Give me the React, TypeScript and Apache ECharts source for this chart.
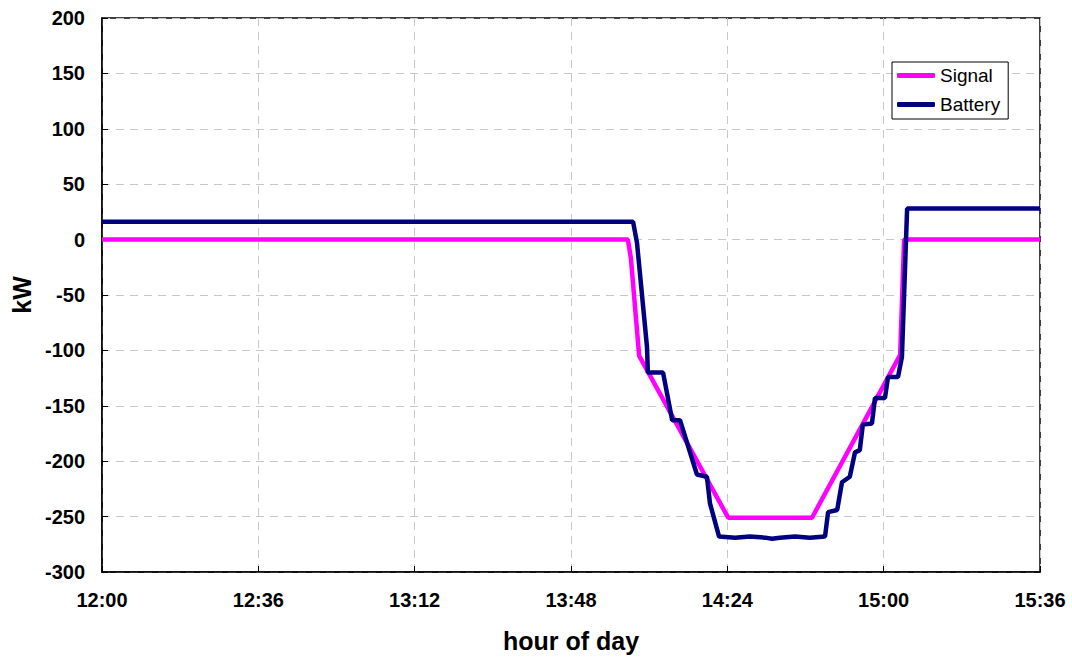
import React, { useEffect, useRef } from "react";
import * as echarts from "echarts";

// minutes after 12:00
const xTickLabels = ["12:00", "12:36", "13:12", "13:48", "14:24", "15:00", "15:36"];
const yTickValues = [-300, -250, -200, -150, -100, -50, 0, 50, 100, 150, 200];

const signalTimes = [0, 121.1, 121.8, 123.7, 144.2, 163.5, 183.8, 184.7, 216];
const signalValues = [0, 0, -17, -105, -251, -251, -104, 0, 0];

const batteryTimes = [
  0, 122.3, 123.2, 125.5, 125.7, 129.2, 131.3, 133.1, 137.0, 139.3, 140.0, 142.1,
  145.8, 149.2, 152.7, 154.3, 156.1, 159.6, 163.0, 166.5, 167.2, 169.3, 170.4, 172.2,
  173.4, 174.5, 175.2, 177.3, 178.0, 180.3, 181.0, 183.3, 184.2, 185.4, 216,
];
const batteryValues = [
  16, 16, -3, -97, -120, -120, -163, -163, -212, -214, -238, -268,
  -269, -268, -269, -270, -269, -268, -269, -268, -246, -244, -219, -214,
  -192, -190, -167, -166, -143, -143, -124, -124, -106, 28, 28,
];

const FONT = "'Liberation Sans', Arial, sans-serif";

export default function App() {
  const ref = useRef<HTMLDivElement>(null);
  useEffect(() => {
    if (!ref.current) return;
    const chart = echarts.init(ref.current, null, { renderer: "svg" });
    const signal = signalTimes.map((t, i) => [t, signalValues[i]]);
    const battery = batteryTimes.map((t, i) => [t, batteryValues[i]]);
    chart.setOption({
      animation: false,
      backgroundColor: "#ffffff",
      grid: {
        left: 102,
        top: 18,
        right: 32,
        bottom: 89,
        show: true,
        borderColor: "#000",
        borderWidth: 1.5,
        containLabel: false,
      },
      legend: {
        orient: "vertical",
        left: 892,
        top: 62,
        padding: [4, 8, 5, 5],
        borderColor: "#000",
        borderWidth: 1,
        backgroundColor: "#fff",
        itemGap: 10,
        itemWidth: 38,
        itemHeight: 5,
        icon: "roundRect",
        textStyle: { fontFamily: FONT, fontSize: 19, color: "#000" },
        data: ["Signal", "Battery"],
      },
      xAxis: {
        type: "value",
        min: 0,
        max: 216,
        interval: 36,
        name: "hour of day",
        nameLocation: "middle",
        nameGap: 56,
        nameTextStyle: { fontFamily: FONT, fontSize: 25, fontWeight: "bold", color: "#000" },
        axisLine: { show: true, onZero: false, lineStyle: { color: "#000", width: 1.5 } },
        axisTick: { show: true, inside: true, length: 6, lineStyle: { color: "#000" } },
        axisLabel: {
          margin: 18,
          fontFamily: FONT,
          fontSize: 20,
          fontWeight: "bold",
          color: "#000",
          formatter: (v: number) => xTickLabels[Math.round(v / 36)] ?? "",
        },
        splitLine: { show: true, lineStyle: { color: "#c8c8c8", type: [8, 6], width: 1 } },
      },
      yAxis: {
        type: "value",
        min: yTickValues[0],
        max: yTickValues[yTickValues.length - 1],
        interval: 50,
        name: "kW",
        nameLocation: "middle",
        nameGap: 66,
        nameRotate: 90,
        nameTextStyle: { fontFamily: FONT, fontSize: 25, fontWeight: "bold", color: "#000" },
        axisLine: { show: true, onZero: false, lineStyle: { color: "#000", width: 1.5 } },
        axisTick: { show: true, inside: true, length: 6, lineStyle: { color: "#000" } },
        axisLabel: {
          margin: 17,
          fontFamily: FONT,
          fontSize: 20,
          fontWeight: "bold",
          color: "#000",
        },
        splitLine: { show: true, lineStyle: { color: "#c8c8c8", type: [8, 6], width: 1 } },
      },
      series: [
        {
          name: "Signal",
          type: "line",
          data: signal,
          showSymbol: false,
          symbol: "none",
          color: "#ff00ff",
          lineStyle: { color: "#ff00ff", width: 4.5 },
        },
        {
          name: "Battery",
          type: "line",
          data: battery,
          showSymbol: false,
          symbol: "none",
          color: "#000080",
          lineStyle: { color: "#000080", width: 4.5 },
        },
      ],
    });
    return () => chart.dispose();
  }, []);
  return (
    <div
      ref={ref}
      style={{ position: "fixed", left: 0, top: 0, width: 1072, height: 661, background: "#fff" }}
    />
  );
}
